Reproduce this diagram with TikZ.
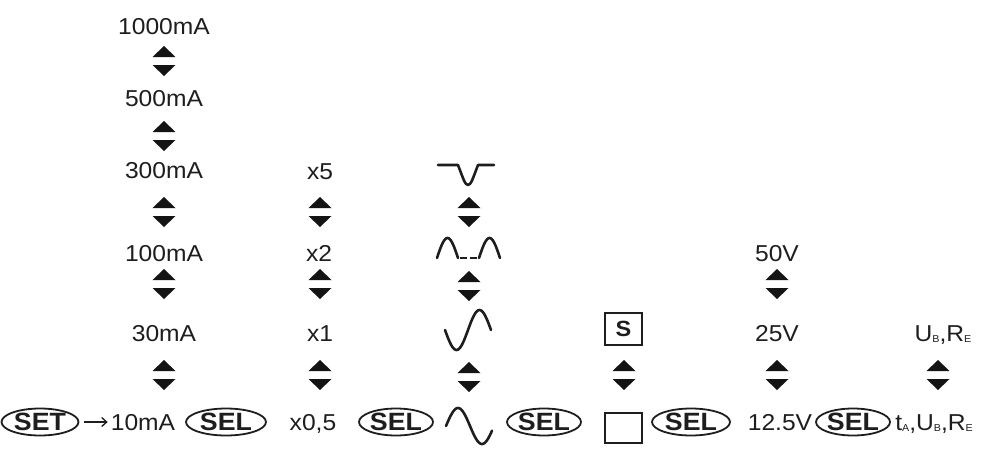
\documentclass[tikz,border=0pt]{standalone}
\usepackage{fontspec}
\setmainfont{Liberation Sans}[FakeStretch=1.07]
\usetikzlibrary{arrows.meta,shapes.geometric}
\definecolor{txt}{HTML}{1E1E1E}
\newcommand{\subsm}[1]{\raisebox{-1.5pt}{\fontsize{10}{10}\selectfont #1}}
\begin{document}
\begin{tikzpicture}[x=1pt,y=-1pt,
  lbl/.style={font=\fontsize{23}{23}\selectfont, text=txt, inner sep=0pt, text height=16.5pt, text depth=0pt},
  btn/.style={ellipse, draw=txt, line width=1.8pt, minimum width=76pt, minimum height=27pt, inner sep=0pt,
    font=\bfseries\fontsize{25}{25}\selectfont, text=txt, text height=17.9pt, text depth=0pt},
  boxsym/.style={draw=txt, line width=2pt, minimum width=37pt, inner sep=0pt},
  wave/.style={draw=txt, line width=2.6pt, line cap=round, line join=round},
  tri/.style={fill=black!92},
  updown/.pic={\fill[tri] (-11.5,-4) -- (11.5,-4) -- (0,-15) -- cycle;
               \fill[tri] (-11.5,4) -- (11.5,4) -- (0,15) -- cycle;}
]
\useasboundingbox[fill=white] (0,0) rectangle (982,448);

% mA column
\node[lbl] (ma1000) at (164,26) {1000mA};
\node[lbl] (ma500) at (164,98) {500mA};
\node[lbl] (ma300) at (164,170) {300mA};
\node[lbl] (ma100) at (164,253) {100mA};
\node[lbl] (ma30) at (164,333) {30mA};
\node[lbl] (ma10) at (143,422) {10mA};
\pic at (164,61) {updown};
\pic at (164,136) {updown};
\pic at (164,212) {updown};
\pic at (164,284) {updown};
\pic at (164,375) {updown};

% multiplier column
\node[lbl] (x5) at (320,171) {x5};
\node[lbl] (x2) at (319,253) {x2};
\node[lbl] (x1) at (320,333) {x1};
\node[lbl] (x05) at (313,422) {x0,5};
\pic at (320,212) {updown};
\pic at (320,284) {updown};
\pic at (320,375) {updown};

% wave column
\draw[wave] (438,165) -- (458,165) .. controls (463,178) and (465,185) .. (468,185)
  .. controls (471,185) and (473,178) .. (478,165) -- (494,165);
\draw[wave] plot[domain=437:458, samples=30] (\x,{258-20*sin(8.5714*(\x-437))});
\draw[wave] plot[domain=479:500, samples=30] (\x,{258-20*sin(8.5714*(\x-479))});
\draw[draw=txt, line width=2pt] (460,258) -- (467,258) (470,258) -- (477,258);
\draw[wave] plot[domain=445:491, samples=40] (\x,{330+20*sin(7.8261*(\x-445))});
\draw[wave] plot[domain=446:492, samples=40] (\x,{426-18*sin(7.5*(\x-446))});
\pic at (469,212) {updown};
\pic at (469,286) {updown};
\pic at (469,377) {updown};

% S column
\node[boxsym, minimum height=32pt, font=\bfseries\fontsize{22}{22}\selectfont, text=txt, text height=15.8pt, text depth=0pt] (sbox) at (623.5,329) {S};
\node[boxsym, minimum height=30pt] (sq) at (623.5,428) {};
\pic at (624,375) {updown};

% voltage column
\node[lbl] (v50) at (777,253) {50V};
\node[lbl] (v25) at (777,333) {25V};
\node[lbl] (v12) at (780,422) {12.5V};
\pic at (777,284) {updown};
\pic at (777,375) {updown};

% last column
\node[lbl] (ubre) at (943,333) {U\subsm{B},R\subsm{E}};
\node[lbl] (tubre) at (934,422) {t\subsm{A},U\subsm{B},R\subsm{E}};
\pic at (938,375) {updown};

% buttons
\node[btn, minimum width=77pt] (set) at (40,422) {SET};
\node[btn, minimum width=80pt] (sel1) at (226,422) {SEL};
\node[btn, minimum width=74pt] (sel2) at (396,422) {SEL};
\node[btn, minimum width=74pt] (sel3) at (544,422) {SEL};
\node[btn, minimum width=78pt] (sel4) at (691,422) {SEL};
\node[btn, minimum width=74pt] (sel5) at (853,422) {SEL};

\draw[draw=txt, line width=1.3pt, -{Straight Barb[length=5pt,width=9pt]}, shorten <=4.5pt, shorten >=3pt] (set) -- (ma10);
\end{tikzpicture}
\end{document}
